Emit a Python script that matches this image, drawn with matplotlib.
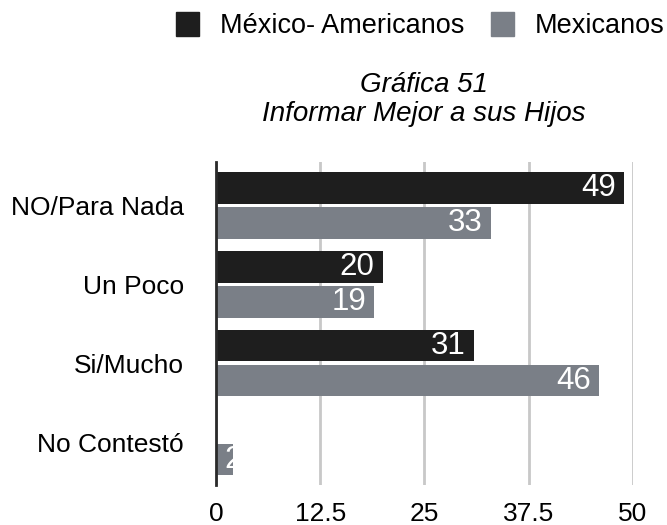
import matplotlib.pyplot as plt
import matplotlib.patches as mpatches
import numpy as np

plt.rcParams['font.family'] = ['Liberation Sans', 'DejaVu Sans']

# respuestas
categorias = ['NO/Para Nada', 'Un Poco', 'Si/Mucho', 'No Contestó']
mex_americanos = [49, 20, 31, 0]
mexicanos = [33, 19, 46, 2]
series = ['México- Americanos', 'Mexicanos']
ticks_x = [0, 12.5, 25, 37.5, 50]
tick_labels_x = ['0', '12.5', '25', '37.5', '50']

c_oscuro = '#1e1e1e'
c_gris = '#7a7f87'

fig = plt.figure(figsize=(6.67, 5.25), dpi=100)
ax = fig.add_axes([0.3238, 0.0762, 0.6248, 0.6152])

y = np.arange(len(categorias))
off = 0.222
h = 0.40

b1 = ax.barh(y - off, mex_americanos, height=h, color=c_oscuro, zorder=3)
b2 = ax.barh(y + off, mexicanos, height=h, color=c_gris, zorder=3)

# etiquetas de valor dentro de cada barra, recortadas a la barra
for bars, vals in [(b1, mex_americanos), (b2, mexicanos)]:
    for bar, v in zip(bars, vals):
        if v == 0:
            continue
        yc = bar.get_y() + bar.get_height() / 2
        if v >= 5:
            t = ax.text(v - 1.0, yc, str(v), ha='right', va='center',
                        color='white', fontsize=22.5, zorder=4)
        else:
            t = ax.text(1.0, yc, str(v), ha='left', va='center',
                        color='white', fontsize=22.5, zorder=4)
        t.set_clip_path(bar)

ax.set_xlim(0, 50)
ax.set_ylim(3.545, -0.55)
ax.set_xticks(ticks_x)
ax.set_xticklabels(tick_labels_x, fontsize=19)
ax.set_yticks(y)
ax.set_yticklabels(categorias, fontsize=19)
ax.tick_params(axis='both', length=0)
ax.tick_params(axis='y', pad=23)
ax.tick_params(axis='x', pad=12)

ax.grid(axis='x', color='#c8c8c8', linewidth=2, zorder=0)
for s in ['top', 'right', 'bottom']:
    ax.spines[s].set_visible(False)
ax.spines['left'].set_color('#2a2a2a')
ax.spines['left'].set_linewidth(2)
ax.spines['left'].set_zorder(5)

fig.text(0.636, 0.8248, 'Gráfica 51', ha='center', va='baseline',
         fontsize=20, style='italic')
fig.text(0.636, 0.7695, 'Informar Mejor a sus Hijos', ha='center',
         va='baseline', fontsize=20, style='italic')

handles = [mpatches.Patch(color=c_oscuro, label=series[0]),
           mpatches.Patch(color=c_gris, label=series[1])]
fig.legend(handles=handles, loc='center right', bbox_to_anchor=(0.996, 0.951),
           ncol=2, frameon=False, fontsize=19.5, handlelength=0.85,
           handleheight=1.0, handletextpad=0.75, columnspacing=1.0,
           borderaxespad=0, borderpad=0)

plt.savefig('out.png', dpi=100)
